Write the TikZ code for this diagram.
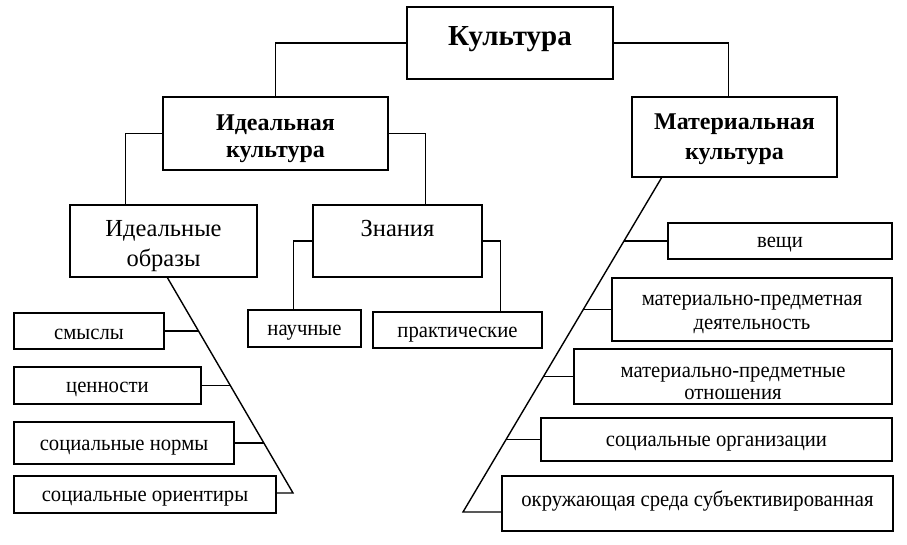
\documentclass[tikz,border=0pt]{standalone}
\usepackage{fontspec}
\setmainfont{Liberation Serif}
\newfontfamily\leaffont[FakeStretch=0.94]{Liberation Serif}
\usetikzlibrary{calc}
\begin{document}
\begin{tikzpicture}[x=1pt,y=-1pt]
      \tikzset{box/.style={draw, line width=1.5pt, inner sep=0pt, align=center, text height=18pt, text depth=4pt, font=\leaffont\fontsize{22}{24}\selectfont},
               mid/.style={box, text height=, text depth=, font=\fontsize{24.5}{29}\selectfont},
               head/.style={box, text height=, text depth=0pt, font=\bfseries\fontsize{24}{27}\selectfont},
               link/.style={line width=1.4pt}}
      \useasboundingbox (0,0) rectangle (907,545);
%% Boxes
	%top
      	\node[head, font=\bfseries\fontsize{29}{29}\selectfont, minimum width=206, minimum height=72, text depth=14pt] (kult) at (510,43) {Культура};
      	\node[head, minimum width=225, minimum height=73, text height=49pt] (ideal) at (275.5,133.5) {Идеальная\\культура};
      	\node[head, font=\bfseries\fontsize{24}{30}\selectfont, minimum width=205, minimum height=80, text height=46pt] (mater) at (734.5,137) {Материальная\\культура};
	%ideal
      	\node[mid, minimum width=187, minimum height=72, text height=50pt, text depth=0pt] (obraz) at (163.5,241) {Идеальные\\образы};
      	\node[mid, minimum width=169, minimum height=72, text depth=26pt] (znan) at (397.5,241) {Знания};
      	\node[box, minimum width=113, minimum height=37] (nauch) at (304.5,328.5) {научные};
      	\node[box, minimum width=169, minimum height=36] (prakt) at (457.5,330) {практические};
      	\node[box, minimum width=150, minimum height=36, text height=20pt] (smysl) at (89,331) {смыслы};
      	\node[box, minimum width=187, minimum height=37] (cenn) at (107.5,385.5) {ценности};
      	\node[box, minimum width=220, minimum height=42] (norm) at (124,443) {социальные нормы};
      	\node[box, minimum width=262, minimum height=37] (orient) at (145,494.5) {социальные ориентиры};
	%mater
      	\node[box, minimum width=224, minimum height=36] (veshch) at (780,241) {вещи};
      	\node[box, minimum width=280, minimum height=63, text height=39pt, text depth=0pt] (deyat) at (752,309.5) {материально-предметная\\деятельность};
      	\node[box, font=\leaffont\fontsize{22}{22}\selectfont, minimum width=318, minimum height=55, text height=45pt, text depth=0pt] (otnosh) at (733,376.5) {материально-предметные\\отношения};
      	\node[box, minimum width=351, minimum height=43] (organiz) at (716.5,439.5) {социальные организации};
      	\node[box, minimum width=391, minimum height=55, text height=, text depth=10pt] (sreda) at (697.5,503.5) {окружающая среда субъективированная};
%% Diagonals
      	\coordinate (ltop) at (167,277);
      	\coordinate (lend) at (293,493);
      	\coordinate (rtop) at (662,177);
      	\coordinate (rend) at (463,512);
      	\coordinate (l1) at ($(ltop)!0.250!(lend)$);
      	\coordinate (l2) at ($(ltop)!0.502!(lend)$);
      	\coordinate (l3) at ($(ltop)!0.769!(lend)$);
      	\coordinate (r1) at ($(rtop)!0.191!(rend)$);
      	\coordinate (r2) at ($(rtop)!0.3925!(rend)$);
      	\coordinate (r3) at ($(rtop)!0.5925!(rend)$);
      	\coordinate (r4) at ($(rtop)!0.7836!(rend)$);
%% Edges
	%top
		\draw [link] (kult.west) -| (ideal.north);
		\draw [link] (kult.east) -| ([xshift=-6pt]mater.north);
		\draw [link] (ideal.west) -| ([xshift=56pt]obraz.north west);
		\draw [link] (ideal.east) -| ([xshift=113pt]znan.north west);
		\draw [link] (znan.west) -| ([xshift=46pt]nauch.north west);
		\draw [link] (znan.east) -| ([xshift=128pt]prakt.north west);
	%left
		\draw [link] (ltop) -- (lend) -- (lend -| orient.east);
		\draw [link] (smysl.east) -- (smysl.east -| l1);
		\draw [link] (cenn.east) -- (cenn.east -| l2);
		\draw [link] (norm.east) -- (norm.east -| l3);
	%right
		\draw [link] (rtop) -- (rend) -- (rend -| sreda.west);
		\draw [link] (veshch.west) -- (veshch.west -| r1);
		\draw [link] (deyat.west) -- (deyat.west -| r2);
		\draw [link] (otnosh.west) -- (otnosh.west -| r3);
		\draw [link] (organiz.west) -- (organiz.west -| r4);
\end{tikzpicture}
\end{document}
